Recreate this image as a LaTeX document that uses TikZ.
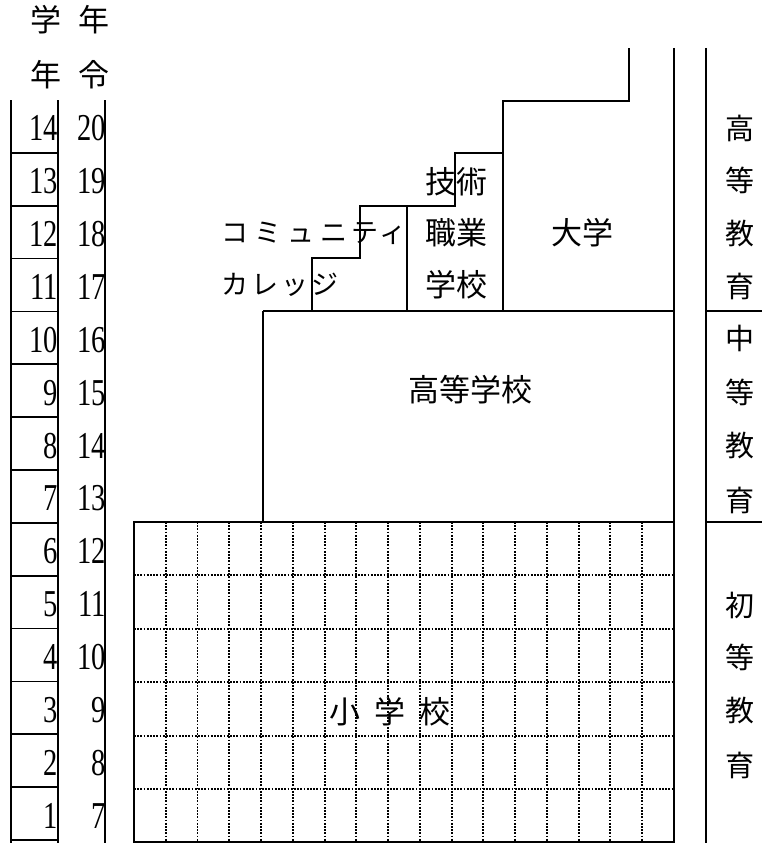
\documentclass[tikz,border=0pt]{standalone}
\usepackage{fontspec}
\setmainfont{Liberation Serif}
\newfontfamily\jp{Noto Sans CJK JP}
\begin{document}
\begin{tikzpicture}[x=1pt,y=-1pt, line width=1.7pt,
  jt/.style={font=\jp\fontsize{29}{29}\selectfont, inner sep=0pt},
  jbig/.style={font=\jp\fontsize{31}{31}\selectfont, inner sep=0pt},
  jcc/.style={font=\jp\fontsize{27}{27}\selectfont, inner sep=0pt},
  num/.style={font=\fontsize{38}{38}\selectfont, inner sep=0pt, anchor=east},
  gridline/.style={line width=1.9pt, dash pattern=on 1.7pt off 1.5pt}]
\useasboundingbox (0,0) rectangle (762,843);
\fill[white] (0,0) rectangle (762,843);
% headers
\node[jbig] (h1) at (46,20) {学};
\node[jbig] (h2) at (94,20) {年};
\node[jbig] (h3) at (46,75) {年};
\node[jbig] (h4) at (94,75) {令};
% left table
\draw (11,100) -- (11,843);
\draw (58,100) -- (58,843);
\draw (105,100) -- (105,843);
\foreach \i in {1,...,14} \draw (11,{100+\i*52.86}) -- (58,{100+\i*52.86});
\foreach \g in {1,...,14}{
  \pgfmathtruncatemacro\a{\g+6}
  \node[num] (g\g) at (59,{102+(14-\g+0.5)*52.86}) {\scalebox{0.75}[1]{\g}};
  \node[num] (a\g) at (107,{102+(14-\g+0.5)*52.86}) {\scalebox{0.75}[1]{\a}};
}
% high school and staircase
\draw (263,311) -- (674,311);
\draw (263,311) -- (263,522);
\draw (312,311) |- (360,258) |- (455,206) |- (503,153) |- (629,101) -- (629,48);
\draw (407,206) -- (407,311);
\draw (503,153) -- (503,311);
% elementary grid
\foreach \k in {1,...,16} \draw[gridline] ({134+\k*31.76},522) -- ({134+\k*31.76},842);
\foreach \k in {1,...,5} \draw[gridline] (134,{522+\k*53.4}) -- (674,{522+\k*53.4});
\draw (134,522) rectangle (674,842);
% double line
\draw (674,48) -- (674,843);
\draw (706,48) -- (706,843);
\draw (706,311) -- (762,311);
\draw (706,522) -- (762,522);
% labels
\node[jcc, anchor=west] (cc1) at (221,233) {コ\hspace{6pt}ミ\hspace{6pt}ュ\hspace{6pt}ニ\hspace{4pt}テ\hspace{1pt}ィ};
\node[jcc, anchor=west] (cc2) at (221,285) {カ\hspace{3pt}レ\hspace{3pt}ッ\hspace{3pt}ジ};
\node[jbig] (t1) at (456,182) {技術};
\node[jbig] (t2) at (456,233) {職業};
\node[jbig] (t3) at (456,285) {学校};
\node[jbig] (uni) at (582,233) {大学};
\node[jbig] (hs) at (470,390) {高等学校};
\node[jbig] (es) at (390,712) {小\hspace{14pt}学\hspace{14pt}校};
\foreach \c/\y [count=\n] in {高/128,等/180,教/234,育/286,中/338,等/392,教/446,育/500,初/605,等/657,教/711,育/765}
  \node[jt] (r\n) at (740,\y) {\c};
\end{tikzpicture}
\end{document}
